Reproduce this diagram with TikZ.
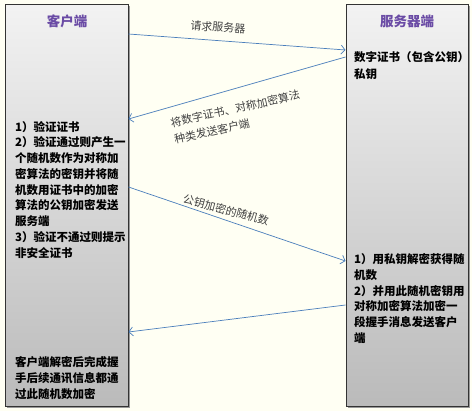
\documentclass[tikz,border=0pt]{standalone}
\usepackage{fontspec}
\setmainfont{Liberation Serif}
\newfontfamily\cjk{Noto Sans CJK SC}
\usetikzlibrary{arrows.meta,shadows}
\definecolor{cream}{HTML}{FFFFF3}
\definecolor{msgblue}{HTML}{4A7EBB}
\definecolor{titlepurple}{HTML}{6A4BA5}

\begin{document}
\begin{tikzpicture}[x=1pt,y=-1pt,
    panel/.style={draw=black!80, line width=1pt, top color=black!5, bottom color=black!27,
        minimum width=123pt, minimum height=402pt, inner sep=0pt,
        drop shadow={shadow xshift=1.5pt, shadow yshift=-1.5pt, fill=black!40, opacity=1}},
    title/.style={font=\cjk\bfseries\fontsize{13.5}{15}\selectfont, text=titlepurple, inner sep=0pt},
    body/.style={font=\cjk\bfseries\fontsize{11.5}{15.75}\selectfont, align=left, anchor=north west, inner sep=0pt},
    note/.style={font=\cjk\fontsize{11}{17}\selectfont, text=black!75, align=left, inner sep=0pt},
    msg/.style={draw=msgblue, line width=0.7pt, -{Straight Barb[length=4pt,width=9pt]}}]

\fill[cream] (0,0) rectangle (472,411);
\useasboundingbox (0,0) rectangle (472,411);

% Client and server panels
\node[panel] (cli) at (66.5,206) {};
\node[panel, minimum width=122pt] (srv) at (407,206) {};

% Titles
\node[title] (cli-t) at (67,21) {客户端};
\node[title] (srv-t) at (407,21) {服务器端};

% Panel texts
\node[body] (cli-a) at (15,121) {1）验证证书\\2）验证通过则产生一\\个随机数作为对称加\\密算法的密钥并将随\\机数用证书中的加密\\算法的公钥加密发送\\服务端\\3）验证不通过则提示\\非安全证书};
\node[body, font=\cjk\bfseries\fontsize{11.5}{17}\selectfont] (srv-a) at (354,51) {数字证书（包含公钥）\\私钥};
\node[body] (srv-b) at (354,253.5) {1）用私钥解密获得随\\机数\\2）并用此随机密钥用\\对称加密算法加密一\\段握手消息发送客户\\端};
\node[body] (cli-b) at (15,356.5) {客户端解密后完成握\\手后续通讯信息都通\\过此随机数加密};

% Messages
\draw[msg] (cli.east |- 0,34) -- (srv.west |- 0,50);
\draw[msg] (srv.west |- 0,57) -- (cli.east |- 0,119);
\draw[msg] (cli.east |- 0,187) -- (srv.west |- 0,261);
\draw[msg] (srv.west |- 0,305) -- (cli.east |- 0,332);

% Message labels
\node[note, rotate=-4] (m1) at (218,27) {请求服务器};
\node[note, rotate=12.5] (m2) at (237,117) {将数字证书、对称加密算法\\种类发送客户端};
\node[note, rotate=-15] (m3) at (226,210) {公钥加密的随机数};
\end{tikzpicture}
\end{document}
